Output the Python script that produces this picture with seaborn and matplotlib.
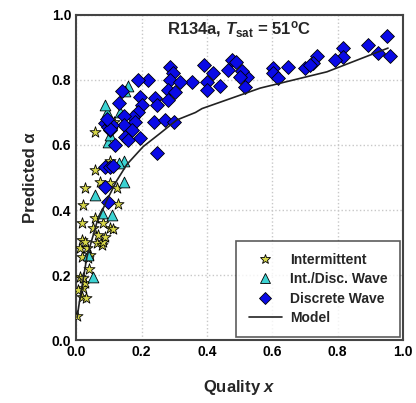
import numpy as np
import pandas as pd
import seaborn as sns
import matplotlib
matplotlib.use("Agg")
import matplotlib.pyplot as plt
from matplotlib.lines import Line2D

# Intermittent (stars)
int_x = [0.004, 0.017, 0.031, 0.022, 0.027, 0.012, 0.020, 0.037, 0.043, 0.018,
         0.012, 0.033, 0.018, 0.027, 0.064, 0.080, 0.083, 0.089, 0.067, 0.052,
         0.104, 0.113, 0.018, 0.083, 0.058, 0.021, 0.128, 0.027, 0.073, 0.104,
         0.125, 0.058, 0.104, 0.058, 0.115, 0.006, 0.040]
int_y = [0.074, 0.133, 0.129, 0.160, 0.175, 0.195, 0.190, 0.252, 0.262, 0.256,
         0.283, 0.283, 0.308, 0.302, 0.298, 0.292, 0.302, 0.317, 0.323, 0.344,
         0.344, 0.341, 0.360, 0.360, 0.375, 0.415, 0.420, 0.467, 0.486, 0.483,
         0.467, 0.523, 0.550, 0.640, 0.671, 0.154, 0.220]

# Int./Disc. Wave (triangles)
idw_x = [0.052, 0.037, 0.110, 0.080, 0.058, 0.145, 0.145, 0.098, 0.104, 0.110,
         0.095, 0.089, 0.135, 0.158, 0.148, 0.130]
idw_y = [0.195, 0.262, 0.385, 0.390, 0.445, 0.486, 0.550, 0.610, 0.630, 0.667,
         0.700, 0.722, 0.700, 0.780, 0.765, 0.545]

# Discrete Wave (diamonds)
dw_x = [0.950, 0.893, 0.924, 0.960, 0.817, 0.817, 0.792, 0.737, 0.725, 0.700,
        0.715, 0.648, 0.603, 0.603, 0.618, 0.522, 0.517, 0.508, 0.500, 0.477,
        0.466, 0.490, 0.440, 0.420, 0.390, 0.400, 0.400, 0.355, 0.288, 0.297,
        0.288, 0.318, 0.282, 0.303, 0.280, 0.220, 0.190, 0.196, 0.242, 0.247,
        0.140, 0.130, 0.200, 0.190, 0.175, 0.145, 0.237, 0.272, 0.298, 0.180,
        0.145, 0.089, 0.098, 0.104, 0.110, 0.171, 0.150, 0.196, 0.119, 0.160,
        0.247, 0.089, 0.104, 0.113, 0.089, 0.098, 0.105, 0.095]
dw_y = [0.935, 0.908, 0.883, 0.874, 0.898, 0.870, 0.862, 0.874, 0.852, 0.837,
        0.845, 0.840, 0.836, 0.820, 0.805, 0.810, 0.778, 0.826, 0.810, 0.862,
        0.831, 0.855, 0.780, 0.820, 0.846, 0.795, 0.770, 0.795, 0.840, 0.820,
        0.800, 0.795, 0.770, 0.764, 0.738, 0.800, 0.800, 0.748, 0.745, 0.723,
        0.765, 0.728, 0.723, 0.700, 0.685, 0.690, 0.670, 0.677, 0.670, 0.670,
        0.660, 0.667, 0.655, 0.646, 0.660, 0.646, 0.625, 0.620, 0.600, 0.615,
        0.575, 0.533, 0.533, 0.536, 0.471, 0.425, 0.650, 0.680]

# Model curve
model_x = [0.003, 0.012, 0.033, 0.063, 0.094, 0.124, 0.155, 0.205, 0.257,
           0.308, 0.365, 0.385, 0.563, 0.767, 0.954]
model_y = [0.070, 0.130, 0.256, 0.360, 0.430, 0.490, 0.540, 0.595, 0.636,
           0.677, 0.700, 0.712, 0.775, 0.825, 0.898]

sns.set_style("white")
plt.rcParams['font.family'] = ['Liberation Sans', 'DejaVu Sans']
plt.rcParams['font.weight'] = 'bold'
plt.rcParams['mathtext.fontset'] = 'custom'
plt.rcParams['mathtext.rm'] = 'Liberation Sans:bold'
plt.rcParams['mathtext.it'] = 'Liberation Sans:italic:bold'
plt.rcParams['mathtext.bf'] = 'Liberation Sans:bold'

fig = plt.figure(figsize=(4.16, 4.03), dpi=100)
ax = fig.add_axes([0.183, 0.156, 0.786, 0.807])

sns.scatterplot(x=int_x, y=int_y, marker='*', s=70, color='#d8d84a',
                edgecolor='black', linewidth=0.6, ax=ax, zorder=3)
sns.scatterplot(x=idw_x, y=idw_y, marker='^', s=60, color='#3cd2d2',
                edgecolor='black', linewidth=0.6, ax=ax, zorder=3)
sns.scatterplot(x=dw_x, y=dw_y, marker='D', s=50, color='#0a0ae6',
                edgecolor='black', linewidth=0.6, ax=ax, zorder=4)
sns.lineplot(x=model_x, y=model_y, color='#222222', linewidth=1.2,
             sort=False, estimator=None, ax=ax, zorder=5)

ax.set_xlim(0, 1.0)
ax.set_ylim(0, 1.0)
ticks = np.arange(0, 1.01, 0.2)
ax.set_xticks(ticks)
ax.set_yticks(ticks)
ax.set_xticklabels([f"{t:.1f}" for t in ticks], fontsize=10, fontweight='bold')
ax.set_yticklabels([f"{t:.1f}" for t in ticks], fontsize=10, fontweight='bold')
ax.tick_params(direction='in', length=3, width=0.8, colors='#333333', labelcolor='black')
ax.grid(True, linestyle=':', color='#c8c8c8', linewidth=1.0)
ax.set_axisbelow(True)
for sp in ax.spines.values():
    sp.set_color('#444444')
    sp.set_linewidth(1.5)

ax.set_xlabel("Quality $x$", fontsize=12, fontweight='bold', labelpad=14)
ax.set_ylabel("Predicted α", fontsize=12, fontweight='bold', labelpad=10)

ax.text(0.5, 0.955, r"R134a, $T_{\mathrm{sat}}$ = 51$^{\mathrm{o}}$C",
        transform=ax.transAxes, ha='center', va='center', fontsize=12,
        fontweight='bold')

handles = [
    Line2D([], [], marker='*', linestyle='', markersize=7,
           markerfacecolor='#d8d84a', markeredgecolor='black', markeredgewidth=0.6),
    Line2D([], [], marker='^', linestyle='', markersize=7,
           markerfacecolor='#3cd2d2', markeredgecolor='black', markeredgewidth=0.6),
    Line2D([], [], marker='D', linestyle='', markersize=6.5,
           markerfacecolor='#0a0ae6', markeredgecolor='black', markeredgewidth=0.6),
    Line2D([], [], color='#222222', linewidth=1.2),
]
labels = ["Intermittent", "Int./Disc. Wave", "Discrete Wave", "Model"]
leg = ax.legend(handles, labels, loc='lower right',
                frameon=True, fancybox=False, edgecolor='#333333',
                borderaxespad=0.2, handlelength=2.4, handletextpad=0.6,
                borderpad=0.9, labelspacing=0.38,
                prop={'weight': 'bold', 'size': 10})
leg.get_frame().set_linewidth(1.2)

fig.savefig("out.png", dpi=100)
